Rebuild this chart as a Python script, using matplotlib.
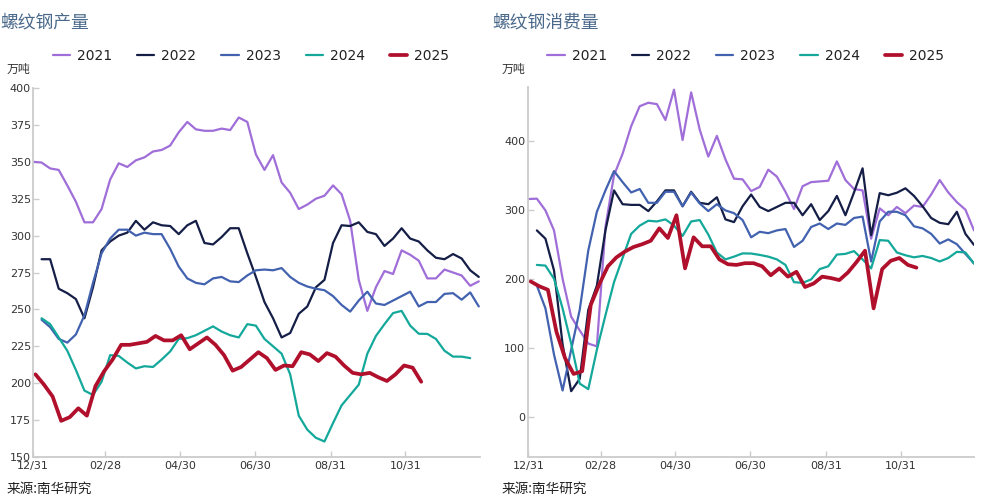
import numpy as np
import matplotlib
matplotlib.use("Agg")
import matplotlib.pyplot as plt

plt.rcParams['font.family'] = ['DejaVu Sans', 'Noto Sans CJK SC']
CJK = ['Noto Sans CJK SC', 'DejaVu Sans']

# x axis: days after 12/31
tick_days = [0, 59, 120, 181, 243, 304]
tick_labels = ['12/31', '02/28', '04/30', '06/30', '08/31', '10/31']

years = ['2021', '2022', '2023', '2024', '2025']
# first data day of each year's weekly series
first_day = {'2021': 0, '2022': 7, '2023': 7, '2024': 7, '2025': 2}

# 螺纹钢产量 (万吨), weekly
prod_2021 = [350, 349.5, 345.5, 344.5, 334, 323, 309, 309, 318, 338, 349, 346.5, 351,
             353, 357, 358, 361, 370, 377, 372, 371, 371, 372.5, 371.5, 380, 377, 355,
             344.5, 354.5, 336, 329, 318, 321, 325, 327, 334, 328, 310, 270, 249, 265,
             276, 274, 290, 287, 283, 271, 271, 277, 275, 273, 266, 269]
prod_2022 = [284, 284, 264, 261, 257, 244, 265, 290, 296, 300, 302, 310, 304, 309, 307,
             306.5, 301, 307, 310, 295, 294, 299, 305, 305, 288, 272, 255, 244, 231, 234,
             247, 252, 265, 270, 295, 307, 306.5, 309, 302.5, 301, 293, 298, 305, 298,
             296, 290, 285, 284, 287.5, 284.5, 276.5, 272]
prod_2023 = [243, 238, 230, 227.5, 233, 246, 268, 288, 298, 304, 304, 300, 302, 301, 301,
             291, 279, 271, 268, 267, 271, 272, 269, 268.5, 273, 276.5, 277, 276.5, 278,
             272, 268, 265.5, 264, 263, 259, 253, 248.5, 256, 262, 254, 253, 256, 259,
             262, 252, 255, 255, 260.5, 261, 256.6, 261.5, 252]
prod_2024 = [244, 240, 231, 222, 209, 195, 192, 201, 219, 218.5, 214, 210, 211.5, 211, 216,
             221.5, 230, 230.5, 232.5, 235.5, 238.5, 235, 232.5, 231, 240, 239, 230, 225,
             220, 206, 178, 168.5, 163, 160.5, 173, 185, 192, 199, 220, 232, 240, 247.5,
             249, 239, 233.5, 233.4, 230, 222, 218, 218, 217]
prod_2025 = [206, 199, 191, 174.5, 177, 183, 178, 198, 208, 216, 226, 226, 227, 228, 232,
             229, 229, 232.5, 223, 227, 231, 226, 219, 208.5, 211, 216, 221, 217, 209, 212,
             211.5, 221, 219.5, 215, 220.4, 218, 212, 207, 206, 207, 204, 201.5, 206, 212,
             210.5, 201]

# 螺纹钢消费量 (万吨), weekly
cons_2021 = [315.5, 316, 299, 270, 200, 145, 125, 106, 102, 275, 350, 381, 421, 450, 455,
             453, 430, 474, 401, 470, 416, 377, 407, 373, 345, 344, 327, 333, 358, 348, 326,
             301, 334, 340, 341, 342, 370, 343, 330, 328, 258, 302, 292, 304, 295, 306, 304,
             322, 343, 325, 311, 300, 270]
cons_2022 = [270, 258, 212, 105, 37, 55, 155, 190, 270, 328, 308, 307, 307, 298, 312, 328,
             328, 305, 326, 310, 308, 318, 286, 282, 305, 322, 304, 298, 304, 310, 310, 292,
             308, 285, 298, 320, 292, 325, 360, 263, 324, 321, 324.6, 331, 320, 305, 288,
             281, 279, 297, 265, 249]
cons_2023 = [190, 157, 90, 38, 97, 155, 241, 297, 328, 356, 340, 325, 330, 310, 310, 326,
             326, 305, 325, 309, 298, 308, 299, 295, 285, 260, 268, 266, 270, 272, 246, 255,
             275, 280, 272, 280, 278, 288, 290, 225, 283, 297, 297, 292, 276, 273, 265, 251,
             257, 250, 236, 222]
cons_2024 = [220, 219, 200, 157, 106, 48, 40, 97, 147, 195, 230, 265, 277, 284, 283, 286,
             277, 262, 283, 285, 264, 238, 228, 232, 236.7, 236.5, 234.5, 232, 228, 220, 195,
             194, 199, 214, 218, 235, 236, 240, 228, 215, 256, 255, 238, 234, 231, 233, 230,
             225, 230, 239, 238, 222]
cons_2025 = [196, 189, 184, 123, 85, 62, 66, 162, 192, 218, 231, 239.5, 246, 250, 255, 273,
             259, 292, 215, 260, 247, 247, 228, 221, 220, 222.5, 222.5, 218, 205, 215, 203,
             210, 188, 193, 203, 201, 198, 209, 224, 240.6, 157, 214, 226, 230, 220, 216]

prod = dict(zip(years, [prod_2021, prod_2022, prod_2023, prod_2024, prod_2025]))
cons = dict(zip(years, [cons_2021, cons_2022, cons_2023, cons_2024, cons_2025]))

colors = {'2021': '#A06ED8', '2022': '#141E46', '2023': '#4262B0',
          '2024': '#14A89B', '2025': '#B0102C'}
widths = {'2021': 1.6, '2022': 1.6, '2023': 1.6, '2024': 1.6, '2025': 2.7}

fig = plt.figure(figsize=(9.81, 5.0), dpi=100)
W, H = 981, 500


def px_axes(x0, y0, x1, y1):
    return fig.add_axes([x0 / W, 1 - y1 / H, (x1 - x0) / W, (y1 - y0) / H])


def style(ax, ypad):
    for s in ['top', 'right']:
        ax.spines[s].set_visible(False)
    for s in ['left', 'bottom']:
        ax.spines[s].set_color('#cccccc')
        ax.spines[s].set_linewidth(1.3)
    ax.tick_params(direction='in', length=4.5, width=1, color='#cccccc',
                   labelsize=8, labelcolor='#333333')
    ax.tick_params(axis='y', pad=ypad)
    ax.tick_params(axis='x', pad=3)
    ax.set_xticks(tick_days)
    ax.set_xticklabels(tick_labels)


panels = [
    (px_axes(33, 88, 480, 457), prod, (150, 400), np.arange(150, 401, 25), (0, 365),
     '螺纹钢产量', 0, 7, 52.7, 1.5),
    (px_axes(528.3, 87.3, 974, 457.3), cons, (-58.8, 477.4), [0, 100, 200, 300, 400],
     (0, 364), '螺纹钢消费量', 492, 502, 547.3, 2.3),
]

for ax, data, ylim, yticks, xlim, title, tx, ux, lx, ypad in panels:
    for y in years:
        vals = np.array(data[y], dtype=float)
        days = first_day[y] + 7 * np.arange(len(vals))
        ax.plot(days, vals, color=colors[y], lw=widths[y], label=y,
                solid_joinstyle='round', solid_capstyle='round')
    ax.set_xlim(*xlim)
    ax.set_ylim(*ylim)
    ax.set_yticks(yticks)
    style(ax, ypad)

    fig.text(tx / W, 1 - 22 / H, title, fontsize=12.8, color='#4B6A8B',
             family=CJK, va='center', ha='left')
    fig.text(ux / W, 1 - 69.5 / H, '万吨', fontsize=8.6, color='#333333',
             family=CJK, va='center', ha='left')
    fig.text(ux / W, 1 - 489 / H, '来源:南华研究', fontsize=9.8, color='#222222',
             family=CJK, va='center', ha='left')

    leg = ax.legend(loc='center left', bbox_to_anchor=(lx / W, 1 - 55.7 / H),
                    bbox_transform=fig.transFigure, ncol=5, frameon=False,
                    fontsize=10, handlelength=1.25, handletextpad=0.5,
                    columnspacing=1.8, borderpad=0, borderaxespad=0)
    for t in leg.get_texts():
        t.set_color('#222222')

fig.savefig('out.png', dpi=100)
